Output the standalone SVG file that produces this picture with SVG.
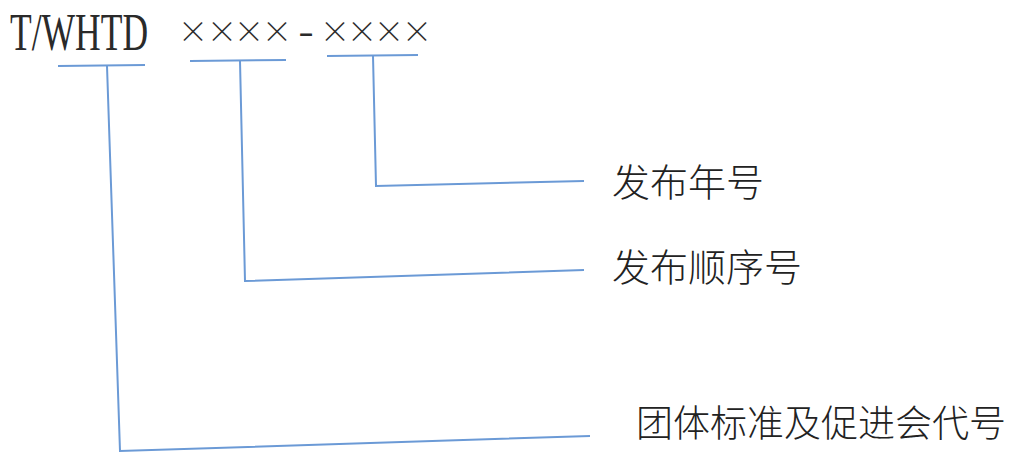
<svg xmlns="http://www.w3.org/2000/svg" width="1010" height="455" viewBox="0 0 1010 455">
  <style>
    .conn { fill: none; stroke: #6b9ad6; stroke-width: 2; stroke-linejoin: miter; }
    .code { font-family: "Liberation Serif", "Times New Roman", serif; fill: #2a2a2a; }
    .x { font-family: "Noto Sans CJK SC", "Noto Sans", sans-serif; font-weight: 300; fill: #2a2a2a; }
    .lbl { font-family: "Noto Sans CJK SC", "Noto Sans", sans-serif; font-weight: 300; fill: #222222; }
  </style>
  <rect width="1010" height="455" fill="#ffffff"/>
  <g id="code">
    <text class="code" font-size="53" transform="translate(10,50) scale(0.67,1)" x="0" y="0">T/WHTD</text>
    <text class="x" font-size="30" text-anchor="middle" x="193 222 249 277 306 335 362 389 417" y="42 42 42 42 48 42 42 42 42">××××<tspan font-size="48">-</tspan>××××</text>
  </g>
  <g id="connectors">
    <line class="conn" x1="58" y1="66" x2="145" y2="65"/>
    <line class="conn" x1="190" y1="61" x2="286" y2="60"/>
    <line class="conn" x1="327" y1="56" x2="418" y2="55"/>
    <polyline class="conn" points="107,66 120,451 590,436"/>
    <polyline class="conn" points="240,61 245,281 584,270"/>
    <polyline class="conn" points="373,56 376,186 584,181"/>
  </g>
  <g id="label-year">
    <text class="lbl" x="612" y="196" font-size="38">发布年号</text>
  </g>
  <g id="label-seq">
    <text class="lbl" x="612" y="281" font-size="38">发布顺序号</text>
  </g>
  <g id="label-org">
    <text class="lbl" x="636" y="437" font-size="37">团体标准及促进会代号</text>
  </g>
</svg>
